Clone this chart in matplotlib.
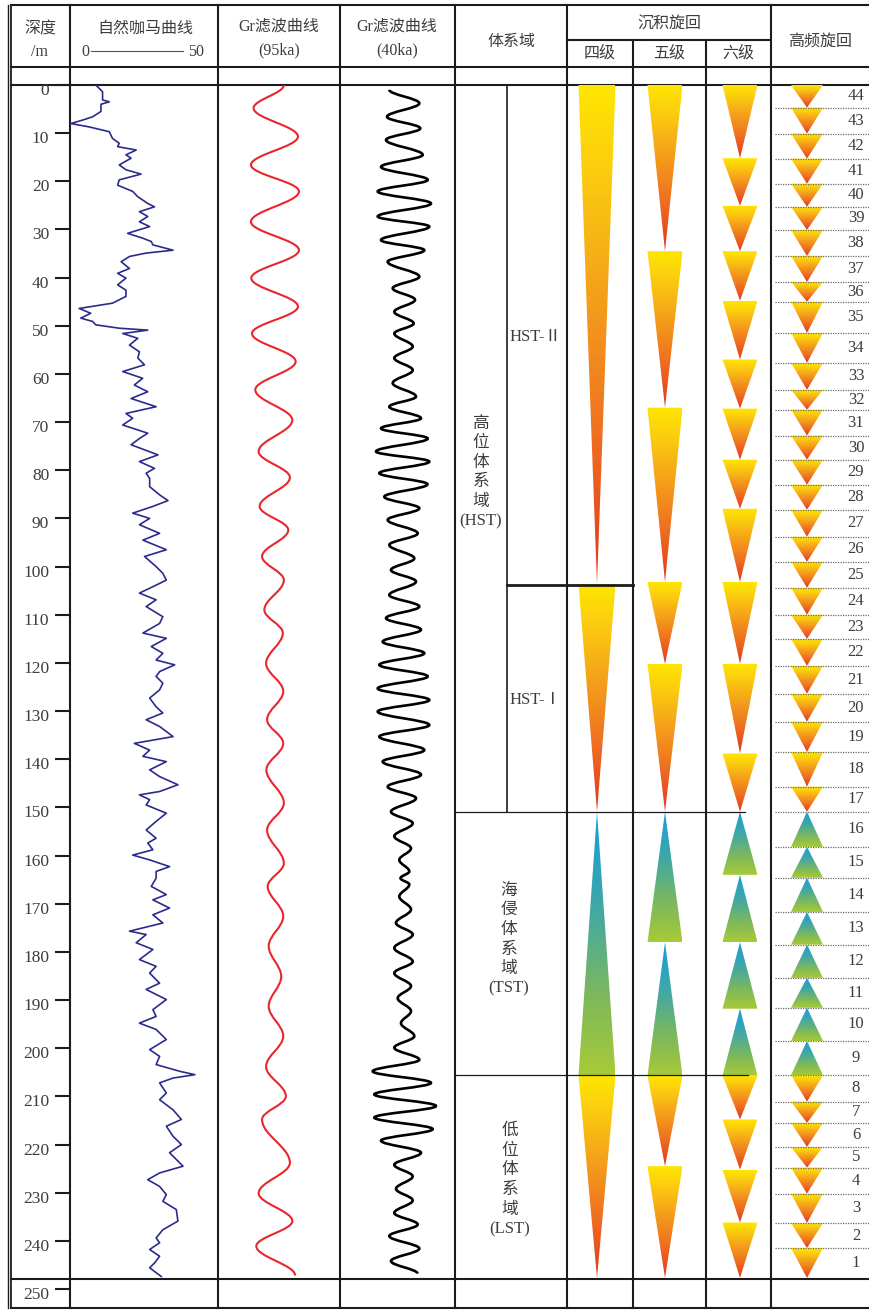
import numpy as np
import matplotlib
matplotlib.use('Agg')
import matplotlib.pyplot as plt
from matplotlib.path import Path
from matplotlib.patches import PathPatch, Polygon
from matplotlib.colors import LinearSegmentedColormap
import matplotlib.transforms as mtransforms

plt.rcParams['font.family'] = ['Liberation Serif', 'Noto Sans CJK SC']

# ---------------- data ----------------
depth_ticks = list(range(0, 251, 10))

# natural gamma ray curve (depth m, value)
gr_depth = [0.0, 1.4, 3.1, 3.5, 4.0, 5.5, 6.6, 7.3, 8.0, 8.7, 9.7, 11.1, 12.1, 12.8, 13.5, 14.5, 15.2, 16.6,
            17.6, 18.5, 19.7, 20.8, 22.1, 23.2, 24.6, 25.3, 26.3, 27.3, 28.4, 29.4, 30.8, 31.8, 32.5, 33.2,
            34.3, 34.9, 35.6, 36.7, 38.1, 39.1, 40.1, 41.5, 42.6, 43.9, 45.3, 46.4, 47.4, 48.4, 49.1, 49.8,
            50.5, 50.9, 51.6, 52.6, 54.0, 55.4, 56.7, 58.1, 59.5, 60.9, 62.3, 63.7, 65.1, 66.8, 68.2, 69.2,
            70.6, 72.3, 73.4, 74.7, 76.8, 78.2, 79.6, 80.6, 81.7, 83.4, 85.1, 86.3, 87.5, 88.9, 90.0, 91.3,
            93.1, 94.5, 96.5, 97.9, 100.0, 101.4, 102.8, 104.5, 105.5, 106.9, 108.3, 110.4, 111.8, 113.8,
            114.9, 116.6, 118.0, 119.4, 120.4, 121.8, 122.8, 124.2, 125.6, 127.3, 129.1, 130.4, 131.8, 133.2,
            135.3, 136.7, 138.1, 139.4, 140.5, 142.2, 143.6, 145.3, 146.7, 147.4, 148.4, 149.5, 151.2, 152.9,
            154.7, 156.4, 157.4, 158.8, 159.9, 160.9, 162.3, 163.3, 164.7, 166.4, 168.1, 169.2, 170.9, 172.3,
            174.0, 175.7, 176.4, 178.1, 179.5, 181.6, 183.0, 184.4, 186.5, 187.8, 189.9, 192.0, 193.4, 194.8,
            196.1, 198.2, 200.3, 201.7, 203.4, 204.8, 205.5, 206.2, 207.2, 209.3, 210.7, 212.8, 214.8, 216.2,
            218.3, 220.0, 221.7, 224.5, 225.9, 227.3, 228.7, 230.4, 231.8, 233.5, 235.9, 237.7, 239.4, 240.4,
            241.8, 243.2, 244.6, 245.6, 247.4]
gr_value = [9.6, 12.1, 12.1, 14.6, 11.5, 11.5, 8.4, 4.6, 0.3, 7.1, 14.6, 15.8, 18.3, 17.7, 24.6, 20.8, 22.7, 18.3,
            20.8, 26.4, 18.3, 17.7, 23.3, 25.2, 28.9, 31.4, 25.8, 28.9, 25.8, 29.6, 21.4, 27.0, 30.2, 30.8,
            38.3, 28.3, 22.1, 19.0, 22.1, 17.7, 20.8, 17.7, 20.8, 20.8, 15.8, 3.4, 7.7, 4.0, 8.4, 9.6,
            18.3, 28.9, 19.6, 25.2, 22.1, 25.8, 25.2, 27.7, 19.6, 27.0, 23.9, 28.9, 22.7, 32.0, 20.8, 23.3,
            19.6, 28.9, 25.8, 22.7, 32.7, 25.8, 31.4, 28.3, 29.6, 29.6, 33.3, 36.4, 30.8, 23.3, 29.6, 25.8,
            33.3, 27.1, 35.8, 27.7, 32.0, 34.5, 35.8, 29.6, 25.8, 32.0, 28.3, 34.5, 33.3, 27.1,
            35.8, 30.2, 34.5, 32.0, 38.9, 33.3, 32.0, 34.5, 33.3, 29.6, 32.0, 34.5, 28.3, 33.3,
            38.3, 23.9, 29.6, 27.1, 35.8, 29.6, 33.3, 40.1, 33.3, 25.8, 29.6, 28.3, 35.8, 32.0,
            28.3, 32.0, 28.9, 30.8, 23.3, 29.6, 37.0, 32.0, 32.0, 30.2, 35.8, 30.8, 37.0, 30.8,
            34.5, 22.1, 28.3, 24.6, 30.8, 25.8, 32.0, 29.6, 33.3, 28.3, 35.8, 30.8, 32.0, 25.8,
            32.0, 35.8, 29.6, 33.3, 32.0, 40.8, 46.4, 38.3, 33.3, 35.8, 33.3, 38.3, 41.4, 35.8,
            38.3, 41.4, 37.0, 42.0, 33.3, 28.9, 33.3, 35.8, 34.5, 39.5, 40.1, 34.5, 32.0, 33.3,
            29.6, 33.3, 31.4, 29.6, 33.9]

# Gr filtered curve 95 ka: turning points (depth, amplitude)
f95_depth = [0.0, 4.8, 10.7, 16.6, 22.1, 28.4, 34.3, 40.1, 46.0, 51.6, 57.4, 63.3, 69.6, 76.1, 81.5,
             87.5, 92.4, 97.9, 102.8, 109.0, 113.8, 120.1, 125.9, 131.8, 136.7, 142.2, 149.1, 154.7,
             161.6, 166.4, 172.6, 178.8, 185.1, 191.3, 197.5, 203.8, 210.0, 214.8, 223.8, 230.1,
             235.9, 241.1, 247.2]
f95_value = [0.48, -2.52, 1.88, -2.78, 1.98, -2.78, 1.98, -2.75, 1.88, -2.68, 1.65, -2.35, 1.32, -2.02,
             1.08, -1.92, 0.92, -1.68, 0.48, -1.45, 0.38, -1.28, 0.42, -1.18, 0.42, -1.25, 0.48, -1.18,
             0.48, -1.12, 0.42, -1.02, 0.22, -1.02, 0.42, -1.28, 0.68, -1.68, 1.08, -2.02, 1.32, -2.25, 1.6]

# Gr filtered curve 40 ka: turning points (depth, amplitude)
f40_depth = [1.0, 3.8, 6.6, 9.0, 11.4, 14.5, 17.0, 19.7, 22.1, 24.6, 27.3, 29.4, 32.2, 34.3, 36.7, 39.8,
             42.2, 44.6, 47.1, 49.5, 51.6, 54.3, 56.7, 59.2, 61.9, 64.7, 66.8, 69.2, 71.3, 73.4, 76.1, 78.2,
             80.6, 82.9, 85.5, 87.9, 90.3, 93.1, 95.5, 98.3, 100.7, 103.1, 105.9, 108.3, 110.7, 113.1,
             115.6, 118.0, 120.4, 122.8, 125.3, 127.7, 130.1, 132.9, 135.3, 138.1, 140.5, 143.2, 145.7,
             148.1, 150.9, 153.3, 156.0, 158.5, 160.9, 163.3, 164.7, 166.0, 168.5, 171.2, 174.0, 176.4,
             179.2, 182.0, 184.4, 187.1, 189.6, 192.3, 194.8, 197.5, 199.9, 202.4, 204.8, 207.2, 209.6,
             212.0, 214.4, 216.8, 219.2, 221.7, 224.2, 226.6, 229.2, 231.6, 234.2, 236.6, 239.0, 241.6,
             244.2, 246.8]
f40_value = [-0.82, 2.18, -1.05, 2.28, -1.15, 2.52, -1.65, 3.02, -1.98, 3.35, -1.98, 3.18, -1.65, 2.68,
             -0.98, 2.18, -0.48, 1.75, -0.32, 1.62, -0.32, 1.52, -0.32, 1.52, -0.48, 1.85, -0.82, 2.35,
             -1.65, 3.02, -2.15, 3.18, -1.82, 3.0, -1.32, 2.18, -0.98, 2.02, -0.82, 1.68, -0.65, 1.85,
             -0.82, 2.18, -1.15, 2.35, -1.48, 2.68, -1.82, 3.02, -1.98, 3.18, -1.98, 3.18, -1.82, 2.68,
             -1.48, 2.35, -0.98, 1.85, -0.65, 1.52, -0.32, 1.35, 0.18, 1.18, 0.3, 1.18, 0.18, 1.35,
             -0.15, 1.52, -0.32, 1.52, -0.32, 1.35, 0.02, 1.35, 0.35, 1.68, -0.32, 2.18, -2.48, 3.35,
             -2.32, 3.85, -2.32, 3.52, -1.65, 2.35, -0.32, 1.52, -0.15, 1.52, -0.32, 2.02, -0.82, 2.18,
             -0.65, 2.0]

# systems tracts (depth of boundaries)
tract_names = ['HST-Ⅱ', 'HST-Ⅰ', 'TST', 'LST']
tract_bounds = [0.0, 103.8, 150.9, 205.6, 247.7]

# sedimentary cycles: boundaries (depth) and direction of each cycle
cyc4_bounds = [0.0, 103.6, 150.9, 205.6, 247.7]
cyc4_dirs = ['down', 'down', 'up', 'down']
cyc5_bounds = [0.0, 34.5, 67.0, 103.2, 120.2, 150.9, 178.0, 205.7, 224.5, 247.7]
cyc5_dirs = ['down'] * 5 + ['up'] * 2 + ['down'] * 2
cyc6_bounds = [0.0, 15.2, 25.1, 34.5, 44.8, 57.0, 67.2, 77.8, 88.0, 103.2, 120.2, 138.8, 150.9,
               164.0, 178.0, 191.8, 205.7, 214.8, 225.2, 236.2, 247.7]
cyc6_dirs = ['down'] * 12 + ['up'] * 4 + ['down'] * 4

# high-frequency cycles 44 (top) .. 1 (bottom)
hf_bounds = [0.0, 4.7, 10.1, 15.3, 20.5, 25.3, 30.1, 35.5, 40.9, 45.0, 51.5, 57.7, 63.3, 67.4, 72.8,
             77.8, 83.0, 88.2, 93.8, 99.0, 104.4, 110.0, 115.0, 120.6, 126.4, 132.2, 138.5, 145.7,
             150.9, 158.2, 164.6, 171.7, 178.5, 185.4, 191.6, 198.5, 205.6, 211.1, 215.5, 220.5,
             224.8, 230.2, 236.3, 241.5, 247.7]
hf_labels = list(range(44, 0, -1))
hf_dirs = ['down'] * 28 + ['up'] * 8 + ['down'] * 8

# ---------------- layout ----------------
W, H = 870.0, 1310.0
Y_DATA, Y_END = 85.0, 1308.0
PX_PER_M = 4.816
D_MAX = (Y_END - Y_DATA) / PX_PER_M

LINE = '#1c1c1c'
TXT = '#3d3d3d'

fig = plt.figure(figsize=(8.7, 13.1), dpi=100)


def rect(x0, y0, x1, y1):
    return [x0 / W, 1 - y1 / H, (x1 - x0) / W, (y1 - y0) / H]


base = fig.add_axes([0, 0, 1, 1])
base.set_xlim(0, W)
base.set_ylim(H, 0)
base.axis('off')

# frame / grid lines
for y in [5, 67, 85, 1279, 1308]:
    base.plot([10, 870], [y, y], color=LINE, lw=1.5, solid_capstyle='butt')
base.plot([8, 8], [5, 1308], color=LINE, lw=1.0)
base.plot([11, 11], [5, 1308], color=LINE, lw=1.3)
for x in [70, 218, 340, 455, 567, 771]:
    base.plot([x, x], [5, 1308], color=LINE, lw=1.5)
for x in [633, 706]:
    base.plot([x, x], [40, 1308], color=LINE, lw=1.5)
base.plot([567, 771], [40, 40], color=LINE, lw=1.5)

# header text
hk = dict(ha='center', va='center', color=TXT, fontsize=11.5)
base.text(40, 29, '深度', **hk)
base.text(40, 52, '/m', **hk)
base.text(145, 29, '自然咖马曲线', **hk)
base.text(85, 52, '0', **hk)
base.plot([91, 183], [51, 51], color='#555555', lw=0.8)
base.text(196, 52, '50', **hk)
base.text(279, 27, 'Gr滤波曲线', **hk)
base.text(279, 50, '(95ka)', **hk)
base.text(397, 27, 'Gr滤波曲线', **hk)
base.text(397, 50, '(40ka)', **hk)
base.text(511, 42, '体系域', **hk)
base.text(669, 25, '沉积旋回', **hk)
base.text(600, 54, '四级', **hk)
base.text(669, 54, '五级', **hk)
base.text(738, 54, '六级', **hk)
base.text(820, 42, '高频旋回', **hk)


def data_axes(x0, x1, xlim):
    ax = fig.add_axes(rect(x0, Y_DATA, x1, Y_END))
    ax.set_xlim(*xlim)
    ax.set_ylim(D_MAX, 0)
    ax.patch.set_alpha(0)
    for s in ax.spines.values():
        s.set_visible(False)
    ax.set_xticks([])
    ax.set_yticks([])
    return ax


# GR track with depth axis
ax_gr = data_axes(70, 218, (0, 55))
ax_gr.plot(gr_value, gr_depth, color='#2b2b8c', lw=1.2)
ax_gr.set_yticks(depth_ticks)
ax_gr.tick_params(axis='y', direction='out', length=11, width=1.5, color=LINE,
                  labelsize=12.5, labelcolor=TXT, pad=4)
off = mtransforms.ScaledTranslation(0, -4 / 100, fig.dpi_scale_trans)
for lbl in ax_gr.get_yticklabels():
    lbl.set_transform(lbl.get_transform() + off)


def smooth_path(depths, values, k=0.364):
    verts = [(values[0], depths[0])]
    codes = [Path.MOVETO]
    for i in range(len(depths) - 1):
        d0, d1 = depths[i], depths[i + 1]
        v0, v1 = values[i], values[i + 1]
        h = (d1 - d0) * k
        verts += [(v0, d0 + h), (v1, d1 - h), (v1, d1)]
        codes += [Path.CURVE4] * 3
    return Path(verts, codes)


ax95 = data_axes(218, 340, (-6.05, 6.05))
ax95.add_patch(PathPatch(smooth_path(f95_depth, f95_value), fill=False, ec='#e8262c', lw=1.5))
ax40 = data_axes(340, 455, (-5.75, 5.75))
ax40.add_patch(PathPatch(smooth_path(f40_depth, f40_value), fill=False, ec='black', lw=1.9))

# overlay for systems tracts and cycles (x in pixels, y in depth)
ov = data_axes(10, 870, (10, 870))

cm_down = LinearSegmentedColormap.from_list(
    'down', [(0.0, '#ffe600'), (0.15, '#fcd00e'), (0.4, '#f5a41a'), (0.7, '#ee7021'), (1.0, '#e3361d')])
cm_up = LinearSegmentedColormap.from_list(
    'up', [(0.0, '#139fde'), (0.35, '#3ea7a8'), (0.7, '#7db85c'), (1.0, '#a8ca36')])
grad = np.linspace(0, 1, 256).reshape(-1, 1)


def triangle(ax, xc, hw, d0, d1, direction):
    if direction == 'down':
        pts = [(xc - hw, d0), (xc + hw, d0), (xc, d1)]
        cmap = cm_down
    else:
        pts = [(xc, d0), (xc - hw, d1), (xc + hw, d1)]
        cmap = cm_up
    poly = Polygon(pts, closed=True, fc='none', ec='none')
    ax.add_patch(poly)
    im = ax.imshow(grad, cmap=cmap, extent=(xc - hw, xc + hw, d1, d0), origin='upper',
                   aspect='auto', interpolation='bilinear', zorder=2)
    im.set_clip_path(poly)


def draw_cycles(ax, bounds, dirs, xc, hw):
    for i, dr in enumerate(dirs):
        triangle(ax, xc, hw, bounds[i], bounds[i + 1], dr)


draw_cycles(ov, cyc4_bounds, cyc4_dirs, 597, 18.5)
draw_cycles(ov, cyc5_bounds, cyc5_dirs, 665, 17.5)
draw_cycles(ov, cyc6_bounds, cyc6_dirs, 740, 17.5)
draw_cycles(ov, hf_bounds, hf_dirs, 807, 16)

# high-frequency separators and numbers
for d in hf_bounds[1:-1]:
    ov.plot([775, 870], [d, d], color='#6a6a6a', lw=0.9, ls=(0, (1, 1)), zorder=3)
for i, lab in enumerate(hf_labels):
    ov.text(856, (hf_bounds[i] + hf_bounds[i + 1]) / 2, str(lab), ha='center', va='center',
            fontsize=12, color=TXT)

# systems tract lines
ov.plot([507, 507], [tract_bounds[0], tract_bounds[2]], color=LINE, lw=1.2)
ov.plot([507, 633], [tract_bounds[1], tract_bounds[1]], color=LINE, lw=2.0)
ov.plot([455, 745], [tract_bounds[2], tract_bounds[2]], color=LINE, lw=0.9)
ov.plot([455, 748], [tract_bounds[3], tract_bounds[3]], color=LINE, lw=0.9)

tk = dict(ha='center', va='center', color=TXT, fontsize=12, linespacing=1.3)
ov.text(536, 52.3, tract_names[0], **tk)
ov.text(536, 127.7, tract_names[1], **tk)
ov.text(481, 80.5, '高\n位\n体\n系\n域\n(HST)', **tk)
ov.text(509, 177.5, '海\n侵\n体\n系\n域\n(TST)', **tk)
ov.text(510, 227.4, '低\n位\n体\n系\n域\n(LST)', **tk)

fig.savefig('out.png', dpi=100)
